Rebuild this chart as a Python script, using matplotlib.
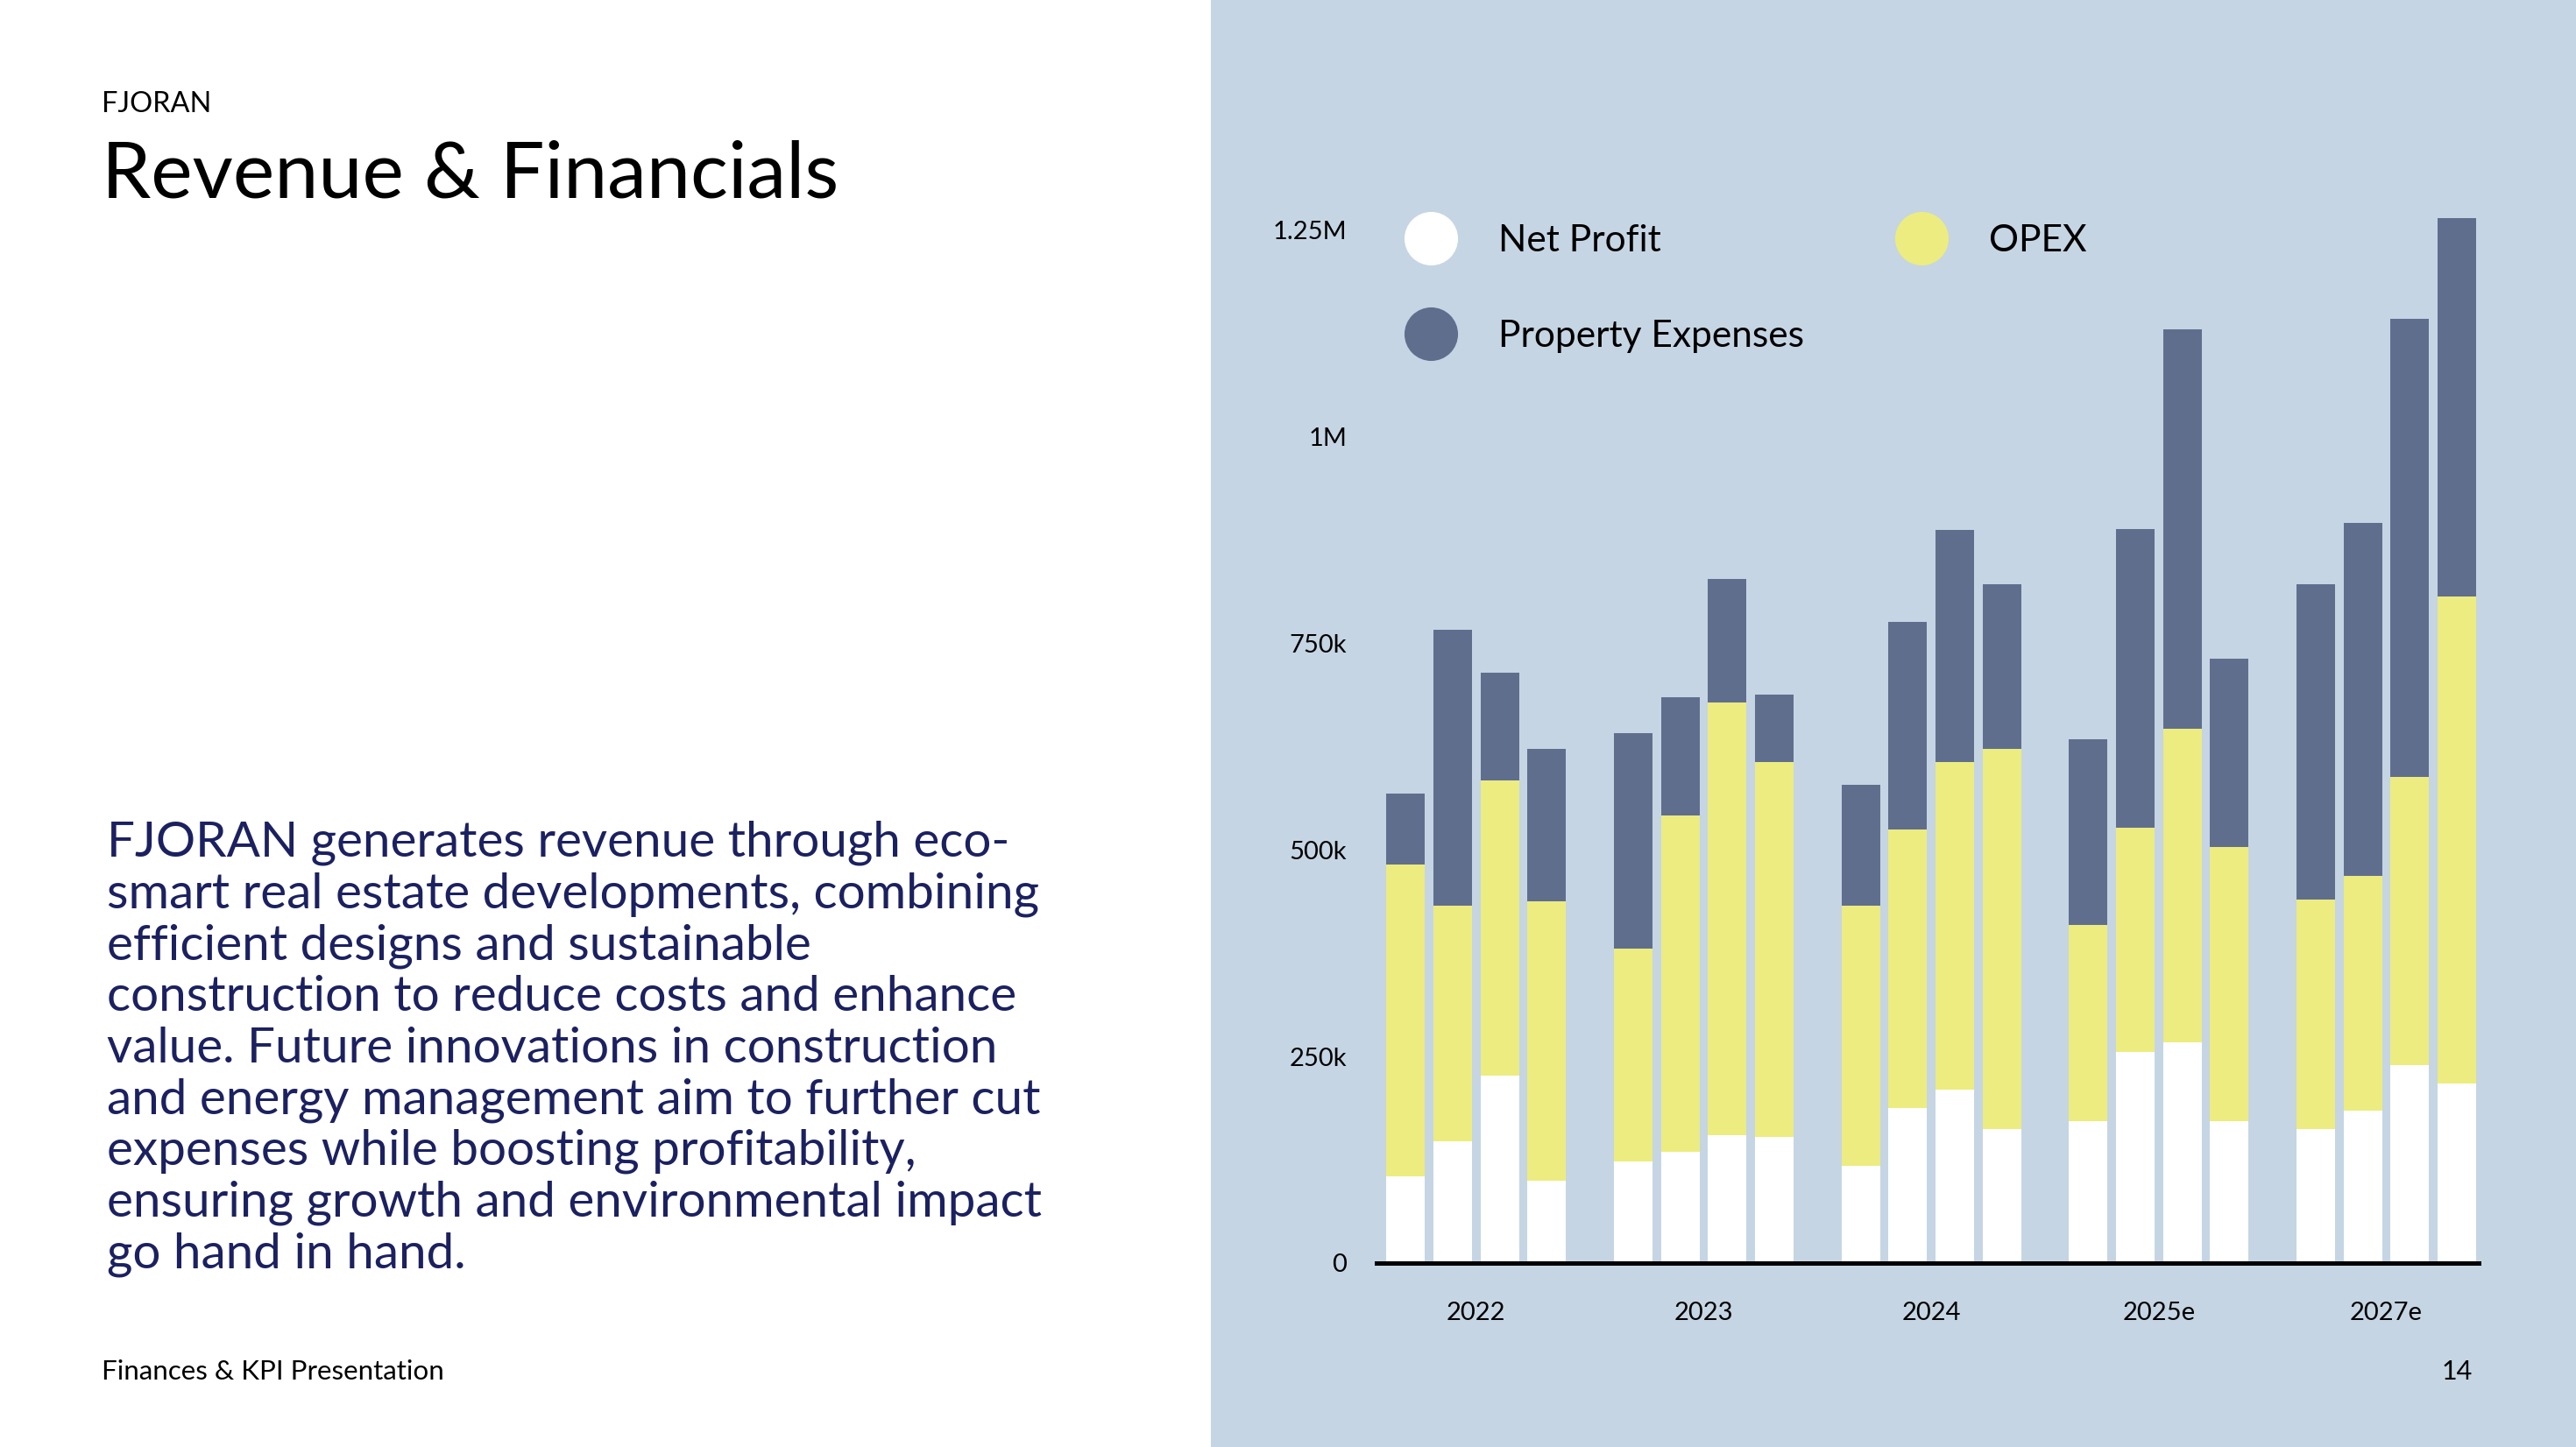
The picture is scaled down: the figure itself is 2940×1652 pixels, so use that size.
import matplotlib
matplotlib.use("Agg")
import matplotlib.pyplot as plt
from matplotlib.lines import Line2D
from matplotlib.patches import Rectangle
import numpy as np

plt.rcParams['font.family'] = ['Lato', 'DejaVu Sans']

# --- datos ---
years = ["2022", "2023", "2024", "2025e", "2027e"]
net_profit = [105, 147, 227, 100,
              123, 135, 155, 153,
              118, 187, 210, 162,
              172, 255, 267, 172,
              162, 184, 239, 217]
opex_top = [482, 432, 584, 438,
            380, 542, 678, 606,
            432, 525, 606, 622,
            409, 527, 646, 503,
            440, 468, 588, 807]
total = [568, 766, 714, 622,
         641, 685, 828, 688,
         579, 776, 887, 821,
         634, 888, 1130, 731,
         821, 896, 1143, 1264]
y_ticks = [0, 250e3, 500e3, 750e3, 1e6, 1.25e6]
y_tick_labels = ["0", "250k", "500k", "750k", "1M", "1.25M"]

body = ("FJORAN generates revenue through eco-\n"
        "smart real estate developments, combining\n"
        "efficient designs and sustainable\n"
        "construction to reduce costs and enhance\n"
        "value. Future innovations in construction\n"
        "and energy management aim to further cut\n"
        "expenses while boosting profitability,\n"
        "ensuring growth and environmental impact\n"
        "go hand in hand.")

# colores
BG = "#C5D5E3"
SLATE = "#606E8E"
YELLOW = "#ECEC80"
NAVY = "#1B2160"

np_v = np.array(net_profit) * 1e3
opex_v = np.array(opex_top) * 1e3 - np_v
prop_v = np.array(total) * 1e3 - np.array(opex_top) * 1e3

fig = plt.figure(figsize=(14.7, 8.26), dpi=200)
fig.patch.set_facecolor("white")
fig.add_artist(Rectangle((0.470, 0), 0.530, 1, transform=fig.transFigure,
                         facecolor=BG, edgecolor="none", zorder=0))

# textos de la izquierda
fig.text(0.0395, 0.9228, "FJORAN", fontsize=11.7, color="black", va="baseline")
fig.text(0.0395, 0.8638, "Revenue & Financials", fontsize=32.3, color="black", va="baseline")
# va='baseline' en multilínea alinea la última línea
fig.text(0.0415, 0.1237, body, fontsize=20.4, color=NAVY, va="baseline",
         linespacing=1.18)
fig.text(0.0395, 0.0465, "Finances & KPI Presentation", fontsize=11.3, color="black",
         va="baseline")
fig.text(0.9598, 0.0465, "14", fontsize=11, color="black", va="baseline", ha="right")

# --- gráfico ---
ax = fig.add_axes([0.5342, 0.1272, 0.4280, 0.7252])
ax.set_facecolor("none")

n_groups = len(years)
offsets = np.array([-0.310, -0.1034, 0.1034, 0.310])
x = (np.arange(n_groups)[:, None] + offsets[None, :]).ravel()
w = 0.1695

ax.bar(x, np_v, width=w, color="white", label="Net Profit", zorder=2)
ax.bar(x, opex_v, bottom=np_v, width=w, color=YELLOW, label="OPEX", zorder=2)
ax.bar(x, prop_v, bottom=np_v + opex_v, width=w, color=SLATE,
       label="Property Expenses", zorder=2)

ax.set_xlim(-0.44, 4.406)
ax.set_ylim(0, 1.27e6)
ax.set_xticks(np.arange(n_groups))
ax.set_xticklabels(years)
ax.set_yticks(y_ticks)
ax.set_yticklabels(y_tick_labels)
ax.tick_params(axis="both", length=0, labelsize=10.5, colors="black")
ax.tick_params(axis="x", pad=16)
ax.tick_params(axis="y", pad=12)
for s in ["top", "right", "left"]:
    ax.spines[s].set_visible(False)
ax.spines["bottom"].set_color("black")
ax.spines["bottom"].set_linewidth(1.8)
ax.spines["bottom"].set_zorder(3)

handles = [
    Line2D([], [], marker="o", linestyle="none", markersize=22,
           markerfacecolor="white", markeredgecolor="none", label="Net Profit"),
    Line2D([], [], marker="o", linestyle="none", markersize=22,
           markerfacecolor=SLATE, markeredgecolor="none", label="Property Expenses"),
    Line2D([], [], marker="o", linestyle="none", markersize=22,
           markerfacecolor=YELLOW, markeredgecolor="none", label="OPEX"),
]
fig.legend(handles=handles, ncol=2, loc="upper left",
           bbox_to_anchor=(0.5446, 0.845), frameon=False, fontsize=15.3,
           handlelength=1.5, handletextpad=1.06, columnspacing=2.4,
           labelspacing=1.67, borderpad=0, borderaxespad=0)

fig.savefig("out.png", dpi=200)
